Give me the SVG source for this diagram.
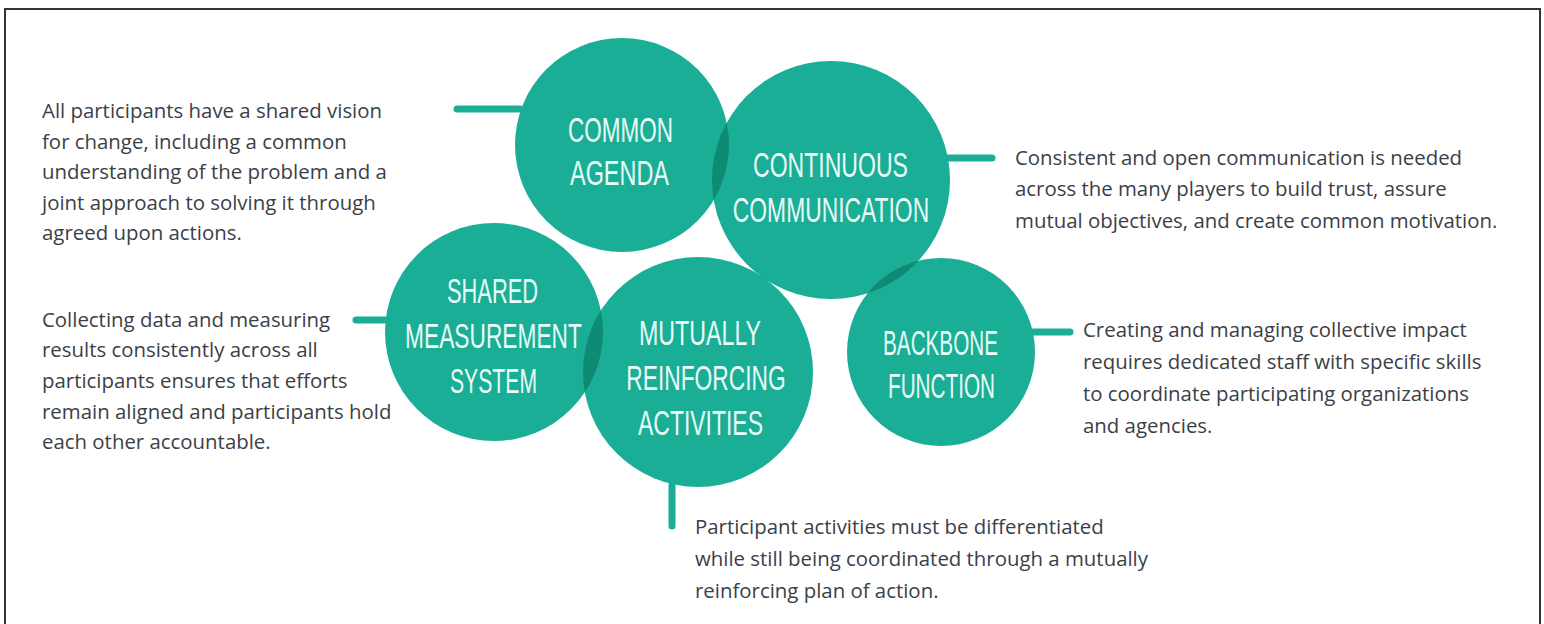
<svg xmlns="http://www.w3.org/2000/svg" width="1544" height="624" viewBox="0 0 1544 624">
  <style>
    .node { fill: #1aae97; }
    .lens { fill: #0e8a75; }
    .label { font-family: "Liberation Sans", Arial, sans-serif; font-size: 35px; fill: #e8fbf6; text-anchor: middle; }
    .body { font-family: "Open Sans", "Liberation Sans", sans-serif; font-size: 20.4px; fill: #3b4046; }
    .conn { stroke: #1aae97; stroke-width: 7; stroke-linecap: round; fill: none; }
  </style>
  <defs>
    <clipPath id="clipCommon"><circle cx="622" cy="145" r="107"/></clipPath>
    <clipPath id="clipCont"><circle cx="831" cy="180" r="119"/></clipPath>
    <clipPath id="clipShared"><circle cx="494" cy="332" r="109"/></clipPath>
  </defs>
  <rect x="0" y="0" width="1544" height="624" fill="#ffffff"/>
  <rect x="5" y="9" width="1535" height="640" fill="none" stroke="#333333" stroke-width="2"/>

  <g id="connectors">
    <line class="conn" x1="457" y1="109" x2="520" y2="109"/>
    <line class="conn" x1="948" y1="158" x2="992" y2="158"/>
    <line class="conn" x1="356" y1="320" x2="390" y2="320"/>
    <line class="conn" x1="1032" y1="332" x2="1070" y2="332"/>
    <line class="conn" x1="672" y1="485" x2="672" y2="526"/>
  </g>

  <g id="common-agenda">
    <circle class="node" cx="622" cy="145" r="107"/>
    <text class="label" transform="translate(620.5 142) scale(0.643 1)">COMMON</text>
    <text class="label" transform="translate(619.5 185) scale(0.67 1)">AGENDA</text>
  </g>

  <g id="continuous-communication">
    <circle class="node" cx="831" cy="180" r="119"/>
    <text class="label" transform="translate(830.5 177) scale(0.659 1)">CONTINUOUS</text>
    <text class="label" transform="translate(831 222) scale(0.653 1)">COMMUNICATION</text>
  </g>

  <g id="shared-measurement">
    <circle class="node" cx="494" cy="332" r="109"/>
    <text class="label" transform="translate(492.5 303) scale(0.624 1)">SHARED</text>
    <text class="label" transform="translate(493.5 348) scale(0.65 1)">MEASUREMENT</text>
    <text class="label" transform="translate(493.5 393) scale(0.605 1)">SYSTEM</text>
  </g>

  <g id="mutually-reinforcing">
    <circle class="node" cx="698" cy="372" r="115"/>
    <text class="label" transform="translate(700 345) scale(0.664 1)">MUTUALLY</text>
    <text class="label" transform="translate(706 390) scale(0.651 1)">REINFORCING</text>
    <text class="label" transform="translate(700.5 435) scale(0.656 1)">ACTIVITIES</text>
  </g>

  <g id="backbone-function">
    <circle class="node" cx="941" cy="352" r="94"/>
    <text class="label" transform="translate(940.5 355) scale(0.591 1)">BACKBONE</text>
    <text class="label" transform="translate(941.5 398) scale(0.592 1)">FUNCTION</text>
  </g>

  <g id="overlaps">
    <circle class="lens" cx="831" cy="180" r="119" clip-path="url(#clipCommon)"/>
    <circle class="lens" cx="941" cy="352" r="94" clip-path="url(#clipCont)"/>
    <circle class="lens" cx="698" cy="372" r="115" clip-path="url(#clipCont)"/>
    <circle class="lens" cx="698" cy="372" r="115" clip-path="url(#clipShared)"/>
  </g>

  <g id="desc-common-agenda">
    <text class="body" x="42" y="118">All participants have a shared vision</text>
    <text class="body" x="42" y="148.5">for change, including a common</text>
    <text class="body" x="42" y="179">understanding of the problem and a</text>
    <text class="body" x="42" y="209.5">joint approach to solving it through</text>
    <text class="body" x="42" y="240">agreed upon actions.</text>
  </g>

  <g id="desc-continuous-communication">
    <text class="body" x="1015" y="165">Consistent and open communication is needed</text>
    <text class="body" x="1015" y="196">across the many players to build trust, assure</text>
    <text class="body" x="1015" y="228">mutual objectives, and create common motivation.</text>
  </g>

  <g id="desc-shared-measurement">
    <text class="body" x="42" y="327">Collecting data and measuring</text>
    <text class="body" x="42" y="357">results consistently across all</text>
    <text class="body" x="42" y="388">participants ensures that efforts</text>
    <text class="body" x="42" y="419">remain aligned and participants hold</text>
    <text class="body" x="42" y="449">each other accountable.</text>
  </g>

  <g id="desc-backbone-function">
    <text class="body" x="1083" y="337">Creating and managing collective impact</text>
    <text class="body" x="1083" y="369">requires dedicated staff with specific skills</text>
    <text class="body" x="1083" y="401">to coordinate participating organizations</text>
    <text class="body" x="1083" y="433">and agencies.</text>
  </g>

  <g id="desc-mutually-reinforcing">
    <text class="body" x="695" y="534">Participant activities must be differentiated</text>
    <text class="body" x="695" y="566">while still being coordinated through a mutually</text>
    <text class="body" x="695" y="598">reinforcing plan of action.</text>
  </g>
</svg>
